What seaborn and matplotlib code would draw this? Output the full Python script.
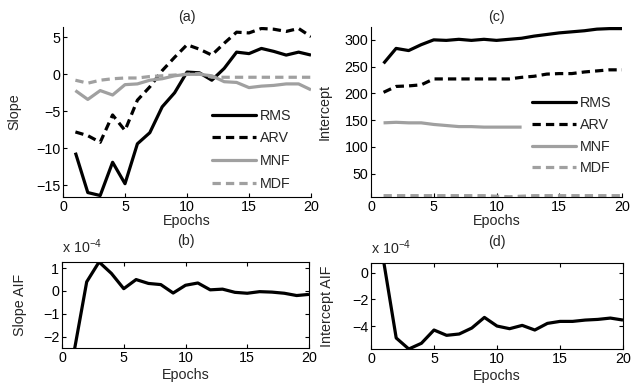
import numpy as np
import pandas as pd
import matplotlib
matplotlib.use("Agg")
import matplotlib.pyplot as plt
import seaborn as sns

sns.set_theme(style="white")
plt.rcParams['font.family'] = ['Liberation Sans', 'DejaVu Sans']
plt.rcParams['mathtext.fontset'] = 'custom'
plt.rcParams['mathtext.rm'] = 'Liberation Sans'
plt.rcParams['mathtext.it'] = 'Liberation Sans'

FS = 10.3

epochs = list(range(1, 21))

# (a) Slope
slope_rms = [-10.6, -16.0, -16.4, -11.9, -14.8, -9.4, -7.9, -4.4, -2.5, 0.3,
             0.2, -0.8, 0.8, 3.0, 2.8, 3.5, 3.1, 2.6, 3.0, 2.6]
slope_arv = [-7.8, -8.3, -9.2, -5.5, -7.6, -3.5, -1.7, 0.5, 2.3, 4.0,
             3.4, 2.6, 4.2, 5.7, 5.6, 6.2, 6.1, 5.8, 6.2, 5.1]
slope_mnf = [-2.2, -3.4, -2.2, -2.8, -1.4, -1.3, -0.8, -0.6, -0.2, 0.0,
             0.0, -0.2, -1.0, -1.1, -1.8, -1.6, -1.5, -1.3, -1.3, -2.1]
slope_mdf = [-0.8, -1.2, -0.8, -0.6, -0.5, -0.5, -0.3, -0.2, -0.1, 0.0,
             0.1, -0.4, -0.4, -0.4, -0.4, -0.4, -0.4, -0.4, -0.4, -0.4]

# (c) Intercept
int_rms = [256, 284, 280, 291, 300, 299, 301, 299, 301, 299,
           301, 303, 307, 310, 313, 315, 317, 320, 321, 321]
int_arv = [202, 213, 214, 216, 227, 227, 227, 227, 227, 227,
           227, 230, 232, 236, 237, 237, 240, 242, 244, 244]
int_mnf_epochs = list(range(1, 13))
int_mnf = [145, 146, 145, 145, 142, 140, 138, 138, 137, 137, 137, 137]
int_mdf = [9, 9, 9, 9, 9, 9, 9, 9, 9, 8, 7, 8, 9, 9, 9, 9, 9, 9, 9, 9]

# (b) Slope AIF (x 1e-4)
slope_aif = [-2.6, 0.4, 1.27, 0.77, 0.1, 0.5, 0.33, 0.28, -0.09, 0.25,
             0.35, 0.05, 0.08, -0.06, -0.1, -0.03, -0.05, -0.1, -0.2, -0.15]
# (d) Intercept AIF (x 1e-4)
int_aif = [0.9, -4.9, -5.73, -5.3, -4.3, -4.7, -4.6, -4.15, -3.35, -4.0,
           -4.2, -3.95, -4.3, -3.8, -3.65, -3.65, -3.55, -3.5, -3.4, -3.55]

labels = ["RMS", "ARV", "MNF", "MDF"]
BLACK = "black"
GRAY = "#a0a0a0"
LW = 2.3
DASH = (0, (2.6, 1.6))
styles = {
    "RMS": dict(color=BLACK, ls="-"),
    "ARV": dict(color=BLACK, ls=DASH),
    "MNF": dict(color=GRAY, ls="-"),
    "MDF": dict(color=GRAY, ls=DASH),
}

fig = plt.figure(figsize=(6.4, 3.88), dpi=100)
W, H = 640.0, 388.0

def make_ax(l, r, t, b):
    return fig.add_axes([l / W, 1 - b / H, (r - l) / W, (b - t) / H])

ax_a = make_ax(63, 311, 27, 197)
ax_c = make_ax(371, 622, 27, 197)
ax_b = make_ax(62, 309, 262, 348)
ax_d = make_ax(371, 623, 263, 349)

def style_ax(ax, box, labelpad=0):
    for s in ["top", "right"]:
        ax.spines[s].set_visible(box)
    for s in ax.spines.values():
        s.set_linewidth(0.8)
        s.set_color("black")
    ax.tick_params(direction="in", length=3, width=0.8, labelsize=FS, pad=2,
                   top=box, right=box, bottom=True, left=True, colors="black")
    ax.set_xlim(0, 20)
    ax.set_xticks([0, 5, 10, 15, 20])
    ax.set_xlabel("Epochs", fontsize=FS, labelpad=labelpad)

def draw(ax, x, y, name, label=None):
    st = styles[name]
    df = pd.DataFrame({"Epoch": x, "val": y})
    sns.lineplot(data=df, x="Epoch", y="val", ax=ax, color=st["color"],
                 linestyle=st["ls"], linewidth=LW, label=label, legend=False)

# (a)
for name, vals in zip(labels, [slope_rms, slope_arv, slope_mnf, slope_mdf]):
    draw(ax_a, epochs, vals, name, label=name)
style_ax(ax_a, False)
ax_a.set_ylim(-16.6, 6.4)
ax_a.set_yticks([-15, -10, -5, 0, 5])
ax_a.set_ylabel("Slope", fontsize=FS)
ax_a.yaxis.set_label_coords(-0.17, 0.5)
ax_a.set_title("(a)", fontsize=FS, pad=4)
ax_a.legend(loc="upper left", bbox_to_anchor=(0.6, 0.52), frameon=False,
            fontsize=FS, handlelength=3.1, handletextpad=0.25,
            labelspacing=0.62, borderpad=0, borderaxespad=0)

# (c)
draw(ax_c, epochs, int_rms, "RMS", "RMS")
draw(ax_c, epochs, int_arv, "ARV", "ARV")
draw(ax_c, int_mnf_epochs, int_mnf, "MNF", "MNF")
draw(ax_c, epochs, int_mdf, "MDF", "MDF")
style_ax(ax_c, False)
ax_c.set_ylim(6.5, 324)
ax_c.set_yticks([50, 100, 150, 200, 250, 300])
ax_c.set_ylabel("Intercept", fontsize=FS)
ax_c.yaxis.set_label_coords(-0.155, 0.5)
ax_c.set_title("(c)", fontsize=FS, pad=4)
ax_c.legend(loc="upper left", bbox_to_anchor=(0.64, 0.595), frameon=False,
            fontsize=FS, handlelength=3.1, handletextpad=0.25,
            labelspacing=0.55, borderpad=0, borderaxespad=0)

# (b)
draw(ax_b, epochs, slope_aif, "RMS")
style_ax(ax_b, True, labelpad=2)
ax_b.set_ylim(-2.5, 1.27)
ax_b.set_yticks([-2, -1, 0, 1])
ax_b.set_ylabel("Slope AIF", fontsize=FS)
ax_b.yaxis.set_label_coords(-0.14, 0.5)
ax_b.set_title("(b)", fontsize=FS, pad=12)
ax_b.text(0.0, 1.07, r"x 10$^{-4}$", transform=ax_b.transAxes, fontsize=FS,
          ha="left", va="bottom")

# (d)
draw(ax_d, epochs, int_aif, "RMS")
style_ax(ax_d, True, labelpad=2)
ax_d.set_ylim(-5.73, 0.75)
ax_d.set_yticks([-4, -2, 0])
ax_d.set_ylabel("Intercept AIF", fontsize=FS)
ax_d.yaxis.set_label_coords(-0.147, 0.5)
ax_d.set_title("(d)", fontsize=FS, pad=12)
ax_d.text(0.0, 1.07, r"x 10$^{-4}$", transform=ax_d.transAxes, fontsize=FS,
          ha="left", va="bottom")

for ax in [ax_a, ax_b, ax_c, ax_d]:
    for ln in ax.get_lines():
        ln.set_solid_capstyle("butt")
        ln.set_solid_joinstyle("round")

fig.savefig("out.png", dpi=100)
